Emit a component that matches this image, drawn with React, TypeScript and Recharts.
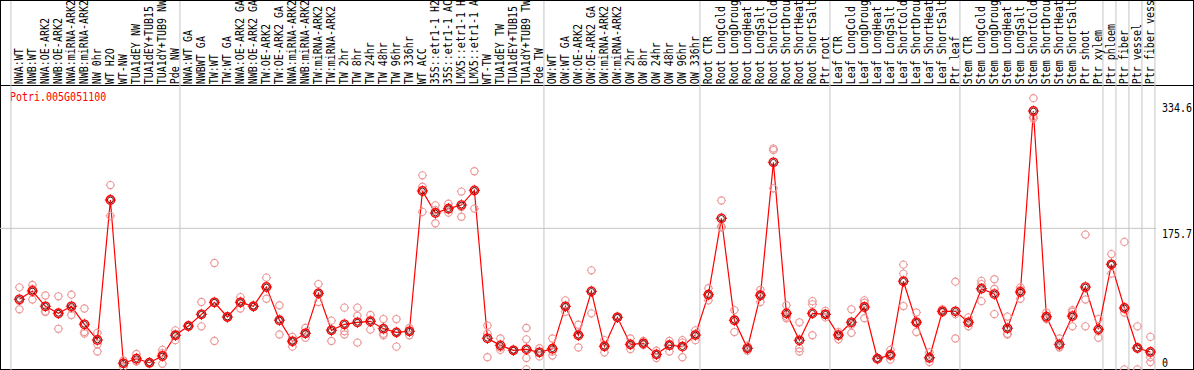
import React from 'react';
import { ComposedChart, Line, Scatter, XAxis, YAxis, ReferenceLine } from 'recharts';

const title = 'Potri.005G051100';

const categories = [
  'NWA:WT', 'NWB:WT', 'NWA:OE-ARK2', 'NWB:OE-ARK2', 'NWA:miRNA-ARK2', 'NWB:miRNA-ARK2', 'NW 0hr', 'WT H2O', 'WT-NW',
  'TUA1dEY NW', 'TUA1dEY+TUB15', 'TUA1dY+TUB9 NW', 'Pde NW',
  'NWA:WT GA', 'NWBWT GA', 'TW:WT', 'TW:WT GA', 'NWA:OE-ARK2 GA', 'NWB:OE-ARK2 GA', 'TW:OE-ARK2', 'TW:OE-ARK2 GA',
  'NWA:miRNA-ARK2', 'NWB:miRNA-ARK2', 'TW:miRNA-ARK2', 'TW:miRNA-ARK2', 'TW 2hr', 'TW 8hr', 'TW 24hr', 'TW 48hr',
  'TW 96hr', 'TW 336hr', 'WT ACC', '35S::etr1-1 H2', '35S::etr1-1 AC', 'LMX5::etr1-1 H', 'LMX5::etr1-1 A',
  'WT-TW', 'TUA1dEY TW', 'TUA1dEY+TUB15', 'TUA1dY+TUB9 TW', 'Pde TW',
  'OW:WT', 'OW:WT GA', 'OW:OE-ARK2', 'OW:OE-ARK2 GA', 'OW:miRNA-ARK2', 'OW:miRNA-ARK2', 'OW 2hr', 'OW 8hr', 'OW 24hr',
  'OW 48hr', 'OW 96hr', 'OW 336hr',
  'Root CTR', 'Root LongCold', 'Root LongDroug', 'Root LongHeat', 'Root LongSalt', 'Root ShortCold',
  'Root ShortDrou', 'Root ShortHeat', 'Root ShortSalt', 'Ptr root',
  'Leaf CTR', 'Leaf LongCold', 'Leaf LongDroug', 'Leaf LongHeat', 'Leaf LongSalt', 'Leaf ShortCold',
  'Leaf ShortDrou', 'Leaf ShortHeat', 'Leaf ShortSalt', 'Ptr leaf',
  'Stem CTR', 'Stem LongCold', 'Stem LongDroug', 'Stem LongHeat', 'Stem LongSalt', 'Stem ShortCold',
  'Stem ShortDrou', 'Stem ShortHeat', 'Stem ShortSalt', 'Ptr shoot', 'Ptr xylem',
  'Ptr phloem', 'Ptr fiber', 'Ptr vessel', 'Ptr fiber vess',
];

const means = [
  88.3, 98.5, 79.7, 71.1, 79.7, 57.5, 38.2, 210.6, 9.5, 15.1, 10.2, 18.5, 44.0,
  55.4, 69.8, 84.6, 66.5, 84.6, 79.7, 103.4, 62.6, 36.6, 46.4, 95.7, 50.1, 57.5, 60.0, 61.2, 52.1, 47.6, 48.9,
  221.7, 194.6, 199.9, 204.4, 222.5, 40.3, 31.6, 25.5, 26.7, 23.0,
  27.5, 79.6, 44.0, 98.1, 30.4, 66.1, 32.8, 34.1, 20.5, 31.8, 30.0, 44.3,
  94.0, 188.0, 62.4, 27.9, 93.2, 257.0, 71.0, 37.8, 71.0, 69.8,
  44.3, 60.0, 78.8, 15.2, 19.7, 110.5, 60.0, 16.4, 73.5, 73.5,
  60.0, 101.4, 94.8, 52.6, 97.3, 320.2, 66.9, 32.8, 67.7, 103.4, 51.3,
  131.4, 77.6, 28.3, 23.4,
];

const replicates = [
  [103, 76, 86], [106, 88, 101], [93, 73, 73], [92, 52, 70], [94, 69, 77], [77, 48, 46], [47, 33, 24],
  [229, 191, 212], [5, 10, 13], [21, 12, 12], [10, 9, 11], [26, 22, 9], [50, 38, 44],
  [55, 56, 55], [85, 55, 70], [133, 37, 84], [66, 67, 66], [91, 77, 85], [80, 79, 81], [115, 89, 105],
  [81, 45, 62], [42, 30, 37], [53, 41, 46], [107, 85, 96], [62, 37, 51], [78, 49, 45], [78, 68, 35],
  [69, 51, 63], [64, 46, 44], [64, 30, 48], [53, 44, 49], [241, 227, 196], [204, 182, 198], [206, 195, 199],
  [221, 190, 202], [246, 200, 221], [56, 46, 17], [40, 26, 29], [26, 25, 26], [53, 39, 16, 2], [28, 18, 23],
  [40, 19, 24], [87, 73, 79], [57, 29, 45], [124, 71, 99], [38, 23, 30], [66, 67, 65], [40, 27, 32],
  [37, 32, 34], [25, 16, 20], [37, 24, 33], [38, 17, 35], [50, 38, 45],
  [102, 87, 93], [210, 177, 178], [75, 48, 64], [28, 25, 31], [100, 85, 95], [274, 272, 225], [81, 65, 67],
  [60, 28, 24], [86, 82, 44], [74, 66, 70],
  [48, 39, 45], [76, 47, 57], [87, 65, 84], [15, 14, 16], [26, 14, 20], [131, 120, 80], [72, 48, 60],
  [23, 11, 15], [76, 72, 73], [110, 40, 70],
  [66, 55, 59], [111, 86, 107], [113, 101, 70], [67, 45, 46], [103, 89, 100], [336, 311, 313], [72, 65, 64],
  [40, 29, 30], [75, 55, 73], [168, 88, 55], [64, 41, 49],
  [144, 120, 131], [159, 72, 2], [55, 28, 2], [42, 17, 11],
];

const yTicks = [0, 175.7, 334.6];
const groupStarts = [0, 13, 41, 53, 63, 73, 84, 85, 86, 87, 88];

const MONO = '"DejaVu Sans Mono", "Liberation Mono", monospace';
const RED = '#ff0000';
const PINK = '#ec9898';
const GRID = '#c4c4c4';

const chartData = categories.map((name, i) => ({ x: i, name, mean: means[i] }));
const repData = replicates.flatMap((arr, i) => arr.map((v) => ({ x: i, rep: v })));

const XTick = (props: any) => {
  const { x, payload } = props;
  const label = categories[payload.value] ?? '';
  return (
    <text
      transform={`translate(${x + 4},84.2) rotate(-90) scale(1,1.18)`}
      fontFamily={MONO}
      fontSize={10}
      fill="#000"
      textAnchor="start"
    >
      {label}
    </text>
  );
};

const YTick = (props: any) => {
  const { y, payload } = props;
  const v = payload.value;
  const dy = v === 0 ? -3.6 : v > 300 ? 12.5 : 9.2;
  return (
    <text
      transform={`translate(1162,${y + dy}) scale(1,1.18)`}
      fontFamily={MONO}
      fontSize={10}
      fill="#000"
      textAnchor="start"
    >
      {String(v)}
    </text>
  );
};

const RepShape = (props: any) => {
  const { cx, cy } = props;
  if (cx == null || cy == null) return <g />;
  const r = 3.6;
  return (
    <g stroke={PINK} fill="none" strokeWidth={1.1}>
      <circle cx={cx} cy={cy} r={r} />
      <line x1={cx} y1={cy - r} x2={cx} y2={cy - r - 1} />
      <line x1={cx} y1={cy + r} x2={cx} y2={cy + r + 1} />
      <line x1={cx - r} y1={cy} x2={cx - r - 1} y2={cy} />
      <line x1={cx + r} y1={cy} x2={cx + r + 1} y2={cy} />
    </g>
  );
};

const MeanDot = (props: any) => {
  const { cx, cy, index } = props;
  if (cx == null || cy == null) return <g key={index} />;
  return (
    <g key={index} fill="none">
      <circle cx={cx} cy={cy} r={4.2} stroke={RED} strokeWidth={1.4} />
      <circle cx={cx} cy={cy} r={2.9} stroke="#4a0000" strokeWidth={0.9} />
      <line x1={cx} y1={cy - 4.5} x2={cx} y2={cy - 5.6} stroke={RED} />
      <line x1={cx} y1={cy + 4.5} x2={cx} y2={cy + 5.6} stroke={RED} />
      <line x1={cx - 4.5} y1={cy} x2={cx - 5.6} y2={cy} stroke={RED} />
      <line x1={cx + 4.5} y1={cy} x2={cx + 5.6} y2={cy} stroke={RED} />
    </g>
  );
};

export default function App() {
  return (
    <div
      style={{
        position: 'absolute',
        left: 0,
        top: 0,
        width: 1194,
        height: 370,
        overflow: 'hidden',
        background: '#fff',
      }}
    >
      <ComposedChart
        width={1194}
        height={371}
        data={chartData}
        margin={{ top: 0, right: 0, bottom: 0, left: 0 }}
      >
        <XAxis
          dataKey="x"
          type="number"
          orientation="top"
          height={1}
          domain={[-1.4923, 87.431]}
          ticks={categories.map((_, i) => i)}
          interval={0}
          axisLine={false}
          tickLine={false}
          tick={<XTick />}
          allowDataOverflow
        />
        <YAxis
          orientation="right"
          width={38}
          domain={[0, 455.7]}
          ticks={yTicks}
          interval={0}
          axisLine={false}
          tickLine={false}
          tick={<YTick />}
          allowDataOverflow
        />
        {groupStarts.map((g) => (
          <ReferenceLine key={`g${g}`} x={g - 0.65} stroke={GRID} strokeWidth={1} />
        ))}
        <ReferenceLine y={175.7} stroke={GRID} strokeWidth={1} />
        <Scatter data={repData} dataKey="rep" shape={RepShape} isAnimationActive={false} />
        <Line
          dataKey="mean"
          stroke={RED}
          strokeWidth={1.2}
          dot={MeanDot}
          activeDot={false}
          isAnimationActive={false}
        />
        <text
          transform="translate(10,100.7) scale(1,1.18)"
          fontFamily={MONO}
          fontSize={10}
          fill={RED}
        >
          {title}
        </text>
        <line x1={0} y1={0.5} x2={1194} y2={0.5} stroke="#000" />
        <line x1={0} y1={85.5} x2={1194} y2={85.5} stroke="#000" />
        <line x1={0} y1={369.5} x2={1194} y2={369.5} stroke="#000" />
        <line x1={0.5} y1={0} x2={0.5} y2={370} stroke="#000" />
        <line x1={1193.5} y1={0} x2={1193.5} y2={370} stroke="#000" />
      </ComposedChart>
    </div>
  );
}
